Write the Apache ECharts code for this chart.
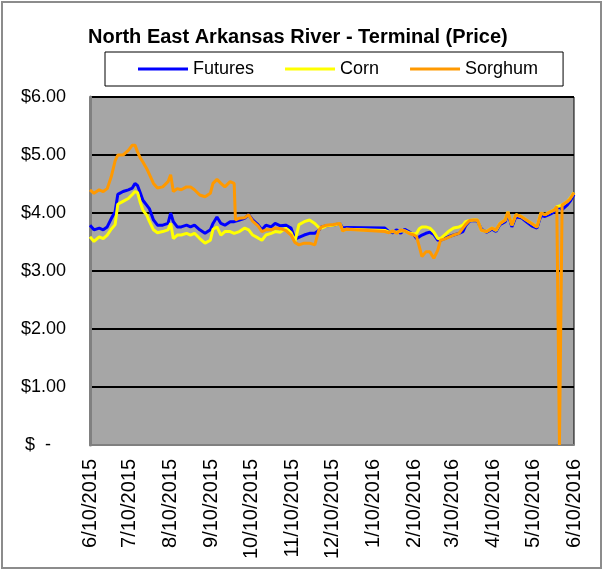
<!DOCTYPE html>
<html>
<head>
<meta charset="utf-8">
<script src="https://cdn.jsdelivr.net/npm/echarts@6/dist/echarts.min.js"></script>
<style>
  html, body { margin: 0; padding: 0; background: #fff; }
  #chart { width: 605px; height: 571px; }
</style>
</head>
<body>
<div id="chart"></div>
<script>
const dates = [
    '2015-06-10', '2015-06-13', '2015-06-17', '2015-06-20', '2015-06-23', '2015-06-26', '2015-06-29', '2015-07-01', '2015-07-05', '2015-07-09',
    '2015-07-12', '2015-07-14', '2015-07-16', '2015-07-18', '2015-07-20', '2015-07-23', '2015-07-25', '2015-07-28', '2015-07-31', '2015-08-04',
    '2015-08-08', '2015-08-10', '2015-08-12', '2015-08-15', '2015-08-18', '2015-08-22', '2015-08-25', '2015-08-28', '2015-09-01', '2015-09-05',
    '2015-09-09', '2015-09-11', '2015-09-14', '2015-09-17', '2015-09-20', '2015-09-24', '2015-09-27', '2015-09-28', '2015-10-01', '2015-10-05',
    '2015-10-08', '2015-10-11', '2015-10-15', '2015-10-18', '2015-10-21', '2015-10-25', '2015-10-28', '2015-11-01', '2015-11-05', '2015-11-09',
    '2015-11-12', '2015-11-15', '2015-11-19', '2015-11-23', '2015-11-27', '2015-11-30', '2015-12-02', '2015-12-06', '2015-12-11', '2015-12-16',
    '2015-12-18', '2015-12-21', '2016-01-19', '2016-01-22', '2016-01-25', '2016-01-28', '2016-01-31', '2016-02-03', '2016-02-06', '2016-02-10',
    '2016-02-12', '2016-02-14', '2016-02-16', '2016-02-19', '2016-02-22', '2016-02-25', '2016-02-28', '2016-03-01', '2016-03-04', '2016-03-07',
    '2016-03-11', '2016-03-15', '2016-03-18', '2016-03-20', '2016-03-23', '2016-03-26', '2016-03-29', '2016-04-01', '2016-04-05', '2016-04-09',
    '2016-04-12', '2016-04-15', '2016-04-19', '2016-04-21', '2016-04-24', '2016-04-27', '2016-05-01', '2016-05-05', '2016-05-09', '2016-05-13',
    '2016-05-16', '2016-05-19', '2016-05-23', '2016-05-26', '2016-05-28', '2016-05-30', '2016-06-01', '2016-06-05', '2016-06-07', '2016-06-10'
]

const futures = [
    3.79, 3.71, 3.74, 3.71, 3.76, 3.90, 4.02, 4.32, 4.37, 4.40,
    4.43, 4.51, 4.47, 4.35, 4.22, 4.13, 4.07, 3.88, 3.79, 3.79,
    3.82, 4.00, 3.85, 3.76, 3.76, 3.79, 3.76, 3.79, 3.71, 3.65,
    3.71, 3.82, 3.93, 3.82, 3.79, 3.85, 3.85, 3.85, 3.88, 3.91,
    3.97, 3.88, 3.80, 3.71, 3.79, 3.76, 3.82, 3.78, 3.79, 3.74,
    3.55, 3.58, 3.62, 3.65, 3.65, 3.70, 3.76, 3.78, 3.79, 3.82,
    3.74, 3.75, 3.74, 3.68, 3.66, 3.71, 3.65, 3.72, 3.68, 3.62,
    3.56, 3.59, 3.62, 3.65, 3.67, 3.63, 3.53, 3.53, 3.56, 3.59,
    3.62, 3.65, 3.68, 3.78, 3.86, 3.87, 3.86, 3.72, 3.67, 3.72,
    3.68, 3.80, 3.85, 4.00, 3.76, 3.93, 3.92, 3.85, 3.78, 3.74,
    3.96, 3.94, 3.98, 4.02, 4.08, 4.10, 4.06, 4.14, 4.20, 4.32
]

const corn = [
    3.59, 3.51, 3.59, 3.56, 3.62, 3.72, 3.80, 4.15, 4.20, 4.25,
    4.32, 4.37, 4.35, 4.18, 4.05, 3.96, 3.85, 3.71, 3.66, 3.68,
    3.71, 3.82, 3.56, 3.62, 3.62, 3.65, 3.62, 3.65, 3.56, 3.48,
    3.53, 3.72, 3.76, 3.62, 3.68, 3.68, 3.65, 3.65, 3.68, 3.74,
    3.71, 3.62, 3.57, 3.53, 3.62, 3.65, 3.68, 3.67, 3.74, 3.66,
    3.51, 3.80, 3.85, 3.88, 3.82, 3.75, 3.74, 3.78, 3.79, 3.82,
    3.70, 3.72, 3.70, 3.67, 3.68, 3.67, 3.69, 3.69, 3.66, 3.64,
    3.65, 3.73, 3.76, 3.76, 3.74, 3.67, 3.56, 3.56, 3.62, 3.68,
    3.74, 3.76, 3.79, 3.85, 3.87, 3.88, 3.88, 3.70, 3.68, 3.74,
    3.70, 3.82, 3.88, 4.02, 3.79, 3.97, 3.94, 3.88, 3.82, 3.76,
    4.00, 3.97, 4.02, 4.05, 4.11, 4.12, 4.14, 4.20, 4.25, 4.35
]

const sorghum = [
    4.40, 4.34, 4.40, 4.37, 4.42, 4.62, 4.90, 5.00, 5.00, 5.08,
    5.17, 5.17, 5.05, 4.95, 4.88, 4.76, 4.66, 4.51, 4.43, 4.45,
    4.54, 4.66, 4.37, 4.42, 4.40, 4.45, 4.45, 4.40, 4.31, 4.28,
    4.34, 4.51, 4.58, 4.51, 4.45, 4.54, 4.51, 3.88, 3.91, 3.92,
    3.97, 3.86, 3.78, 3.68, 3.71, 3.71, 3.74, 3.73, 3.70, 3.62,
    3.49, 3.45, 3.48, 3.48, 3.45, 3.70, 3.76, 3.79, 3.80, 3.82,
    3.69, 3.72, 3.68, 3.66, 3.69, 3.65, 3.71, 3.69, 3.65, 3.62,
    3.59, 3.42, 3.25, 3.33, 3.33, 3.22, 3.36, 3.53, 3.55, 3.58,
    3.62, 3.65, 3.74, 3.80, 3.87, 3.88, 3.88, 3.70, 3.68, 3.74,
    3.71, 3.82, 3.88, 4.02, 3.79, 3.97, 3.94, 3.88, 3.82, 3.76,
    4.00, 3.97, 4.02, 4.05, 4.11, 0, 4.14, 4.20, 4.24, 4.35
]

// label dates on the x axis (10th of each month)
const tickDates = [
    '2015-06-10', '2015-07-10', '2015-08-10', '2015-09-10', '2015-10-10', '2015-11-10', '2015-12-10',
    '2016-01-10', '2016-02-10', '2016-03-10', '2016-04-10', '2016-05-10', '2016-06-10'
]
const yTicks = [0, 1, 2, 3, 4, 5, 6]

const FONT = "'Liberation Sans', Arial, sans-serif"
const toTime = s => {
    const p = s.split('-').map(Number)
    return new Date(p[0], p[1] - 1, p[2]).getTime()
}
const pair = arr => arr.map((v, i) => [toTime(dates[i]), v])

const chart = echarts.init(document.getElementById('chart'), null, { renderer: 'canvas' })

const options = {
    backgroundColor: '#fff',
    animation: false,
    title: {
        text: 'North East Arkansas River - Terminal (Price)',
        left: 83,
        top: 22,
        textStyle: { fontFamily: FONT, fontSize: 20, fontWeight: 'bold', color: '#000' },
    },
    legend: {
        left: 105,
        top: 52,
        padding: [8, 25, 8, 33],
        borderColor: '#000',
        borderWidth: 1,
        itemWidth: 50,
        itemHeight: 3,
        itemGap: 31,
        icon: 'rect',
        textStyle: { fontFamily: FONT, fontSize: 18, color: '#000' },
        data: ['Futures', 'Corn', 'Sorghum'],
    },
    graphic: [
        {
            type: 'rect',
            shape: { x: 2, y: 2, width: 599, height: 566 },
            style: { fill: 'none', stroke: '#8c8c8c', lineWidth: 2 },
            z: -10,
        },
    ],
    grid: {
        left: 90,
        right: 31,
        top: 97,
        bottom: 126,
        show: true,
        backgroundColor: '#a6a6a6',
        borderColor: '#000',
        borderWidth: 1,
    },
    xAxis: {
        type: 'value',
        min: toTime(tickDates[0]),
        max: toTime(tickDates[tickDates.length - 1]),
        axisLine: { show: true, lineStyle: { color: '#808080', width: 2 } },
        axisTick: { show: false },
        splitLine: { show: false },
        axisLabel: {
            customValues: tickDates.map(toTime),
            rotate: 90,
            margin: 14,
            fontFamily: FONT,
            fontSize: 20,
            color: '#000',
            formatter: val => {
                const d = new Date(val)
                return (d.getMonth() + 1) + '/' + d.getDate() + '/' + d.getFullYear()
            },
        },
    },
    yAxis: {
        type: 'value',
        min: yTicks[0],
        max: yTicks[yTicks.length - 1],
        interval: 1,
        axisLine: { show: true, lineStyle: { color: '#808080', width: 3 } },
        axisTick: { show: false },
        splitLine: { show: true, lineStyle: { color: '#000', width: 2 } },
        axisLabel: {
            margin: 24,
            fontFamily: FONT,
            fontSize: 18,
            color: '#000',
            formatter: v => v === 0 ? '$  -   ' : '$' + v.toFixed(2),
        },
    },
    series: [
        {
            name: 'Futures',
            type: 'line',
            data: pair(futures),
            symbol: 'none',
            lineStyle: { color: '#0000ff', width: 3 },
            itemStyle: { color: '#0000ff' },
        },
        {
            name: 'Corn',
            type: 'line',
            data: pair(corn),
            symbol: 'none',
            lineStyle: { color: '#ffff00', width: 3 },
            itemStyle: { color: '#ffff00' },
        },
        {
            name: 'Sorghum',
            type: 'line',
            data: pair(sorghum),
            symbol: 'none',
            lineStyle: { color: '#ff9900', width: 3 },
            itemStyle: { color: '#ff9900' },
        },
    ],
}

chart.setOption(options)
</script>
</body>
</html>
